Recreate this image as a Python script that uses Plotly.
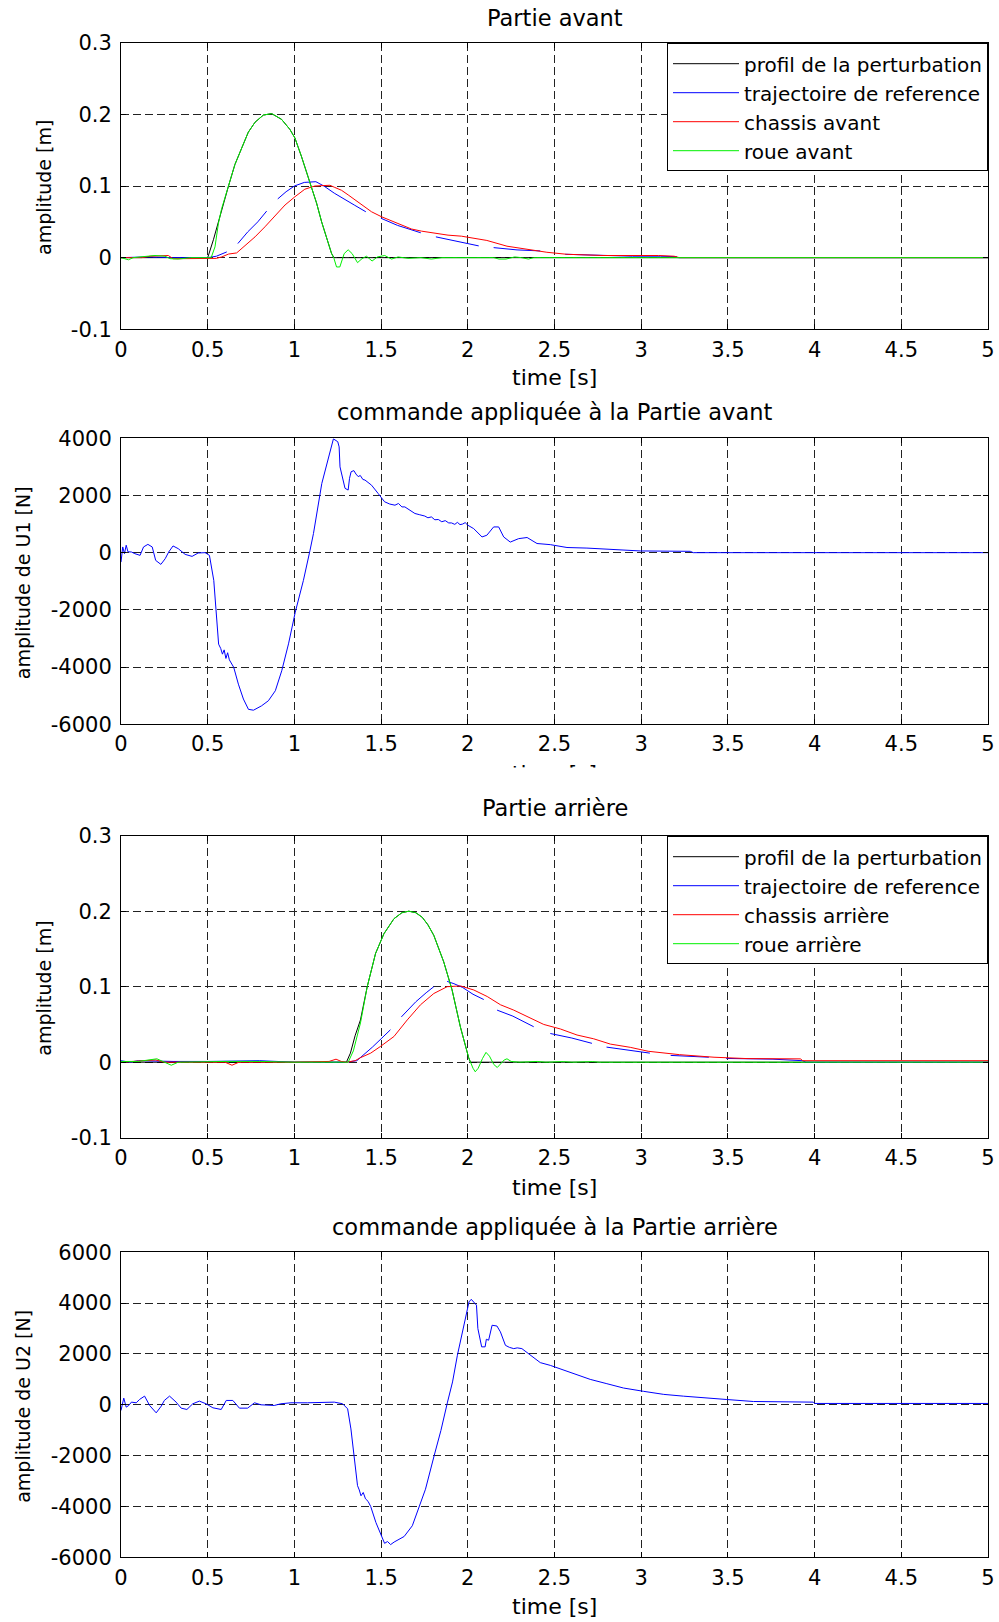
import plotly.graph_objects as go

FONT = "DejaVu Sans"
W, H = 999, 1622

# ---------------- data : Partie avant (plot 1) ----------------
t_prof_av = [0, 0.5, 0.533, 0.562, 0.59, 0.62, 0.657, 0.696, 0.734, 0.773, 0.821, 0.869, 0.926, 0.974, 1.003, 1.041, 1.07, 1.099, 1.128, 1.157, 1.185, 1.214, 1.228, 5]
prof_av = [0, 0, 0.025, 0.051, 0.077, 0.1, 0.13, 0.153, 0.175, 0.189, 0.199, 0.201, 0.193, 0.179, 0.167, 0.141, 0.12, 0.098, 0.076, 0.05, 0.027, 0.006, 0, 0]

t_ref_av = [0, 0.15, 0.3, 0.5, 0.55, 0.58, 0.61, None, 0.674, 0.731, 0.789, 0.84, None, 0.904, 0.952, 1.0, 1.057, 1.124, 1.17, 1.23, 1.29, 1.345, 1.412, None, 1.499, 1.595, 1.729, None, 1.816, 1.919, 1.996, 2.063, None, 2.149, 2.284, 2.418, None, 2.562, 2.783, 2.95, 3.11, 3.205, 3.21, 5]
ref_av = [0, 0.001, 0, 0, 0.002, 0.005, 0.008, None, 0.0197, 0.036, 0.05, 0.065, None, 0.082, 0.092, 0.1, 0.105, 0.106, 0.1, 0.09, 0.081, 0.0735, 0.064, None, 0.055, 0.045, 0.0347, None, 0.029, 0.0235, 0.02, 0.0164, None, 0.014, 0.0108, 0.0094, None, 0.0047, 0.0028, 0.002, 0.002, 0.0014, 0, 0]

t_chassis_av = [0, 0.12, 0.168, 0.273, 0.3, 0.35, 0.5, 0.55, 0.581, 0.62, 0.667, 0.715, 0.773, 0.83, 0.888, 0.946, 1.003, 1.06, 1.118, 1.176, 1.205, 1.233, 1.272, 1.31, 1.349, 1.387, 1.445, 1.503, 1.56, 1.618, 1.675, 1.733, 1.81, 1.886, 1.963, 2.11, 2.226, 2.38, 2.456, 2.57, 2.78, 3.1, 3.19, 3.22, 5]
chassis_av = [0, 0, 0.002, 0.003, -0.0015, -0.0015, -0.002, -0.001, 0.001, 0.005, 0.0066, 0.017, 0.029, 0.043, 0.059, 0.0735, 0.085, 0.0955, 0.1, 0.101, 0.101, 0.098, 0.094, 0.0876, 0.0806, 0.0735, 0.064, 0.057, 0.0515, 0.0454, 0.04, 0.037, 0.0337, 0.0314, 0.03, 0.024, 0.016, 0.01, 0.0075, 0.0047, 0.003, 0.003, 0.002, 0, 0]

t_roue_av = [0, 0.024, 0.043, 0.07, 0.158, 0.196, 0.254, 0.283, 0.33, 0.4, 0.5, 0.52, 0.542, 0.562, 0.58, 0.62, 0.657, 0.696, 0.734, 0.773, 0.821, 0.869, 0.926, 0.974, 1.003, 1.041, 1.07, 1.099, 1.128, 1.157, 1.185, 1.214, 1.228, 1.243, 1.262, 1.287, 1.31, 1.333, 1.364, 1.39, 1.416, 1.448, 1.479, 1.521, 1.56, 1.598, 1.655, 1.73, 1.79, 1.85, 2.15, 2.18, 2.22, 2.27, 2.31, 2.35, 2.38, 5]
roue_av = [0, -0.0014, -0.003, 0, 0.002, 0.003, 0.002, -0.0014, -0.002, 0, 0, 0, 0.015, 0.048, 0.068, 0.1, 0.13, 0.153, 0.175, 0.189, 0.199, 0.201, 0.193, 0.179, 0.167, 0.141, 0.12, 0.098, 0.076, 0.05, 0.027, 0.006, -0.001, -0.013, -0.013, 0.0056, 0.011, 0.0056, -0.007, -0.0014, 0.002, -0.0047, 0.001, 0.003, -0.002, 0.001, -0.001, 0, -0.002, 0, 0, -0.002, -0.002, 0.001, 0, -0.002, 0, 0]

# ---------------- data : commande U1 (plot 2) ----------------
t_u1 = [0, 0.01, 0.02, 0.03, 0.04, 0.06, 0.08, 0.11, 0.13, 0.155, 0.18, 0.2, 0.23, 0.255, 0.275, 0.3, 0.33, 0.37, 0.41, 0.445, 0.485, 0.51, 0.535, 0.553, 0.563, 0.575, 0.585, 0.595, 0.605, 0.615, 0.625, 0.65, 0.677, 0.706, 0.735, 0.764, 0.81, 0.85, 0.89, 0.927, 0.966, 1.005, 1.052, 1.09, 1.11, 1.158, 1.196, 1.225, 1.25, 1.258, 1.263, 1.292, 1.31, 1.318, 1.327, 1.343, 1.355, 1.368, 1.38, 1.395, 1.407, 1.42, 1.445, 1.483, 1.52, 1.55, 1.58, 1.6, 1.62, 1.637, 1.66, 1.695, 1.72, 1.752, 1.77, 1.79, 1.81, 1.83, 1.85, 1.87, 1.89, 1.906, 1.925, 1.94, 1.955, 1.97, 1.985, 2.0, 2.034, 2.082, 2.11, 2.149, 2.178, 2.207, 2.245, 2.293, 2.342, 2.399, 2.476, 2.572, 2.687, 2.88, 2.995, 3.283, 3.3, 5]
u1 = [-330, 200, -35, 260, 30, 23, -35, -94, 200, 290, 200, -270, -410, -210, 23, 235, 140, -60, -130, -12, 0, -94, -970, -2260, -3200, -3350, -3550, -3400, -3700, -3500, -3750, -4010, -4600, -5120, -5480, -5510, -5360, -5180, -4830, -4130, -3190, -2080, -970, 80, 670, 2420, 3360, 3980, 3880, 3700, 3000, 2250, 2190, 2600, 2830, 2870, 2750, 2660, 2700, 2560, 2540, 2480, 2360, 2070, 1780, 1700, 1660, 1720, 1600, 1600, 1500, 1370, 1330, 1280, 1220, 1250, 1150, 1160, 1080, 1120, 1040, 1040, 990, 1060, 980, 1000, 1050, 960, 840, 550, 610, 900, 900, 550, 370, 490, 530, 320, 280, 180, 160, 105, 60, 47, 0, 0]

# ---------------- data : Partie arriere (plot 3) ----------------
t_prof_ar = [0, 1.3, 1.323, 1.35, 1.381, 1.42, 1.468, 1.516, 1.574, 1.62, 1.66, 1.7, 1.737, 1.77, 1.804, 1.861, 1.909, 1.957, 2.005, 2.015, 5]
prof_ar = [0, 0, 0.012, 0.035, 0.056, 0.1, 0.144, 0.17, 0.19, 0.198, 0.2, 0.198, 0.192, 0.182, 0.168, 0.133, 0.096, 0.047, 0.006, 0, 0]

t_ref_ar = [0, 0.05, 0.1, 0.3, 0.5, 0.8, 1.0, 1.3, 1.36, 1.391, 1.45, 1.5, 1.554, None, 1.617, 1.7, 1.76, 1.804, None, 1.881, 1.92, 1.97, 2.03, 2.092, None, 2.169, 2.26, 2.38, None, 2.476, 2.6, 2.716, None, 2.8, 2.92, 3.05, None, 3.17, 3.39, None, 3.49, 3.76, 3.93, 3.95, 5]
ref_ar = [0.002, 0, 0.002, 0.001, 0.001, 0.002, 0, 0, 0.002, 0.008, 0.02, 0.031, 0.043, None, 0.06, 0.08, 0.092, 0.1, None, 0.107, 0.104, 0.099, 0.09, 0.083, None, 0.069, 0.061, 0.047, None, 0.038, 0.032, 0.025, None, 0.02, 0.016, 0.012, None, 0.009, 0.0066, None, 0.005, 0.004, 0.002, 0, 0]

t_chassis_ar = [0, 0.2, 0.25, 0.5, 0.6, 0.64, 0.68, 1.0, 1.2, 1.24, 1.27, 1.3, 1.35, 1.381, 1.44, 1.497, 1.535, 1.574, 1.651, 1.727, 1.804, 1.881, 1.958, 2.035, 2.112, 2.189, 2.265, 2.342, 2.438, 2.534, 2.63, 2.726, 2.822, 2.937, 3.04, 3.22, 3.42, 3.61, 3.92, 3.93, 5]
chassis_ar = [0, 0.003, 0, 0, 0, -0.004, 0, 0, 0.001, 0.004, 0.001, 0, 0.002, 0.006, 0.012, 0.021, 0.028, 0.034, 0.056, 0.076, 0.091, 0.1, 0.101, 0.0956, 0.087, 0.076, 0.069, 0.061, 0.05, 0.044, 0.036, 0.031, 0.024, 0.0197, 0.0145, 0.01, 0.0066, 0.0048, 0.0044, 0.002, 0.002]

t_roue_ar = [0, 0.1, 0.207, 0.25, 0.29, 0.33, 0.5, 0.6, 0.8, 1.0, 1.31, 1.34, 1.381, 1.42, 1.468, 1.516, 1.574, 1.62, 1.66, 1.7, 1.737, 1.77, 1.804, 1.861, 1.909, 1.957, 2.005, 2.015, 2.03, 2.043, 2.06, 2.085, 2.105, 2.125, 2.15, 2.17, 2.19, 2.21, 2.226, 2.25, 2.3, 2.4, 2.45, 2.55, 2.6, 2.72, 2.76, 5]
roue_ar = [0.001, 0.001, 0.0045, 0, -0.004, 0, 0.001, 0.001, 0.001, 0, 0, 0.015, 0.052, 0.1, 0.144, 0.17, 0.19, 0.198, 0.2, 0.198, 0.192, 0.182, 0.168, 0.133, 0.096, 0.047, 0.006, 0, -0.008, -0.0127, -0.008, 0.005, 0.013, 0.008, -0.003, -0.007, -0.002, 0.003, 0.0045, 0.001, 0, 0.001, 0, 0.0008, 0, 0.0008, 0, 0]

# ---------------- data : commande U2 (plot 4) ----------------
t_u2 = [0, 0.016, 0.03, 0.045, 0.06, 0.088, 0.107, 0.136, 0.165, 0.203, 0.232, 0.25, 0.28, 0.318, 0.347, 0.38, 0.414, 0.452, 0.49, 0.53, 0.578, 0.607, 0.645, 0.683, 0.73, 0.77, 0.807, 0.846, 0.884, 0.922, 0.98, 1.075, 1.152, 1.23, 1.278, 1.307, 1.326, 1.345, 1.364, 1.374, 1.384, 1.397, 1.41, 1.425, 1.44, 1.47, 1.5, 1.52, 1.537, 1.555, 1.575, 1.633, 1.68, 1.72, 1.756, 1.806, 1.845, 1.883, 1.912, 1.94, 1.98, 2.007, 2.02, 2.05, 2.058, 2.08, 2.1, 2.107, 2.12, 2.14, 2.168, 2.188, 2.217, 2.24, 2.265, 2.285, 2.312, 2.36, 2.418, 2.476, 2.553, 2.63, 2.706, 2.802, 2.898, 3.014, 3.13, 3.244, 3.36, 3.49, 3.647, 3.993, 4.0, 5]
u2 = [-224, 263, -92, -26, 105, 79, 210, 342, -26, -316, -53, 171, 342, 105, -132, -184, 40, 145, 40, -118, -184, 171, 171, -132, -132, 79, 0, 0, -26, 40, 79, 79, 79, 105, 40, -158, -950, -2000, -3180, -3350, -3580, -3450, -3700, -3800, -4000, -4630, -5160, -5450, -5380, -5500, -5400, -5180, -4760, -4040, -3320, -2000, -1010, 105, 900, 1950, 3130, 4050, 4150, 3920, 3000, 2280, 2280, 2580, 2540, 3130, 3100, 2870, 2340, 2260, 2210, 2240, 2210, 1950, 1660, 1550, 1360, 1160, 1000, 830, 660, 530, 410, 340, 290, 210, 130, 105, 53, 53]

# ---------------- ticks ----------------
x_ticks = [0, 0.5, 1, 1.5, 2, 2.5, 3, 3.5, 4, 4.5, 5]
x_tick_text = ["0", "0.5", "1", "1.5", "2", "2.5", "3", "3.5", "4", "4.5", "5"]
y_ticks_m = [-0.1, 0, 0.1, 0.2, 0.3]
y_tick_text_m = ["-0.1", "0", "0.1", "0.2", "0.3"]
y_ticks_u1 = [-6000, -4000, -2000, 0, 2000, 4000]
y_tick_text_u1 = ["-6000", "-4000", "-2000", "0", "2000", "4000"]
y_ticks_u2 = [-6000, -4000, -2000, 0, 2000, 4000, 6000]
y_tick_text_u2 = ["-6000", "-4000", "-2000", "0", "2000", "4000", "6000"]

titles = ["Partie avant", "commande appliquée à la Partie avant",
          "Partie arrière", "commande appliquée à la Partie arrière"]
y_titles = ["amplitude [m]", "amplitude de U1 [N]", "amplitude [m]", "amplitude de U2 [N]"]

# ---------------- layout geometry (pixels) ----------------
PLOT_L, PLOT_R = 121, 988
PLOT_TB = [(42.7, 329.3), (438.3, 724.2), (835.7, 1137.7), (1252.3, 1557.3)]
TITLE_Y = [18, 412, 808, 1227]
YTITLE_X = [44, 23, 44, 23]
XTITLE_Y = [377, None, 1187, 1606]


def py(p):
    return 1 - p / H


X_DOM = [PLOT_L / W, PLOT_R / W]
GRID = "#222222"

fig = go.Figure()

BLACK, BLUE, RED, GREEN = "#000000", "#0000ff", "#ff0000", "#00f000"
LW = 1


def add_line(x, y, color, name, xa, ya, legend=None, show=False):
    fig.add_trace(go.Scatter(x=x, y=y, mode="lines", name=name,
                             line=dict(color=color, width=LW),
                             xaxis=xa, yaxis=ya, connectgaps=False,
                             showlegend=show, legend=legend, hoverinfo="skip"))


# plot 1
add_line(t_prof_av, prof_av, BLACK, "profil de la perturbation", "x", "y", "legend", True)
add_line(t_ref_av, ref_av, BLUE, "trajectoire de reference", "x", "y", "legend", True)
add_line(t_chassis_av, chassis_av, RED, "chassis avant", "x", "y", "legend", True)
add_line(t_roue_av, roue_av, GREEN, "roue avant", "x", "y", "legend", True)
# plot 2
add_line(t_u1, u1, BLUE, "U1", "x2", "y2")
# plot 3
add_line(t_prof_ar, prof_ar, BLACK, "profil de la perturbation", "x3", "y3", "legend2", True)
add_line(t_ref_ar, ref_ar, BLUE, "trajectoire de reference", "x3", "y3", "legend2", True)
add_line(t_chassis_ar, chassis_ar, RED, "chassis arrière", "x3", "y3", "legend2", True)
add_line(t_roue_ar, roue_ar, GREEN, "roue arrière", "x3", "y3", "legend2", True)
# plot 4
add_line(t_u2, u2, BLUE, "U2", "x4", "y4")

# partially hidden x-title of plot 2 (clipped by the following panel)
fig.add_trace(go.Scatter(x=[2.5], y=[-0.34], mode="text", text=["time [s]"],
                         textfont=dict(family=FONT, size=22, color="black"),
                         xaxis="x5", yaxis="y5", cliponaxis=True,
                         showlegend=False, hoverinfo="skip"))

tickfont = dict(family=FONT, size=21, color="black")


def xax(anchor):
    return dict(domain=X_DOM, range=[0, 5], anchor=anchor, tickmode="array",
                tickvals=x_ticks, ticktext=x_tick_text, showgrid=True,
                gridcolor=GRID, griddash="8px,4px", gridwidth=1,
                showline=True, linecolor="black", linewidth=1, mirror="ticks",
                ticks="inside", ticklen=5, tickcolor="black", zeroline=False,
                tickfont=tickfont, automargin=False, fixedrange=True,
                ticklabelstandoff=1)


def yax(anchor, dom, rng, vals, text):
    return dict(domain=dom, range=rng, anchor=anchor, tickmode="array",
                tickvals=vals, ticktext=text, showgrid=True,
                gridcolor=GRID, griddash="8px,4px", gridwidth=1,
                showline=True, linecolor="black", linewidth=1, mirror="ticks",
                ticks="inside", ticklen=5, tickcolor="black", zeroline=False,
                tickfont=tickfont, automargin=False, fixedrange=True,
                ticklabelstandoff=4)


doms = [[py(b), py(t)] for (t, b) in PLOT_TB]

layout = dict(
    width=W, height=H, autosize=False,
    margin=dict(l=0, r=0, t=0, b=0, pad=0),
    paper_bgcolor="white", plot_bgcolor="white",
    font=dict(family=FONT, size=20, color="black"),
    xaxis=xax("y"), yaxis=yax("x", doms[0], [-0.1, 0.3], y_ticks_m, y_tick_text_m),
    xaxis2=xax("y2"), yaxis2=yax("x2", doms[1], [-6000, 4000], y_ticks_u1, y_tick_text_u1),
    xaxis3=xax("y3"), yaxis3=yax("x3", doms[2], [-0.1, 0.3], y_ticks_m, y_tick_text_m),
    xaxis4=xax("y4"), yaxis4=yax("x4", doms[3], [-6000, 6000], y_ticks_u2, y_tick_text_u2),
    xaxis5=dict(domain=X_DOM, range=[0, 5], anchor="y5", visible=False, fixedrange=True),
    yaxis5=dict(domain=[py(767.5), py(745)], range=[0, 1], anchor="x5", visible=False, fixedrange=True),
    showlegend=True,
)

legend_common = dict(xanchor="right", yanchor="top", bgcolor="white",
                     bordercolor="black", borderwidth=1, orientation="v",
                     font=dict(family=FONT, size=20, color="black"),
                     tracegroupgap=0, itemwidth=66, itemclick=False,
                     itemdoubleclick=False)
layout["legend"] = dict(x=PLOT_R / W, y=py(43.2), **legend_common)
layout["legend2"] = dict(x=PLOT_R / W, y=py(836.2), **legend_common)

fig.update_layout(**layout)

annotations = []
xc = (X_DOM[0] + X_DOM[1]) / 2
for i in range(4):
    annotations.append(dict(text=titles[i], x=xc, y=py(TITLE_Y[i]), xref="paper", yref="paper",
                            xanchor="center", yanchor="middle", showarrow=False,
                            font=dict(family=FONT, size=22.5, color="black")))
    t, b = PLOT_TB[i]
    annotations.append(dict(text=y_titles[i], x=YTITLE_X[i] / W, y=py((t + b) / 2 + 2),
                            xref="paper", yref="paper", xanchor="center", yanchor="middle",
                            textangle=-90, showarrow=False,
                            font=dict(family=FONT, size=19, color="black")))
    if XTITLE_Y[i] is not None:
        annotations.append(dict(text="time [s]", x=xc, y=py(XTITLE_Y[i]), xref="paper", yref="paper",
                                xanchor="center", yanchor="middle", showarrow=False,
                                font=dict(family=FONT, size=22, color="black")))
fig.update_layout(annotations=annotations)

fig.write_html("out.html", config={"displayModeBar": False, "staticPlot": True},
               post_script="document.body.style.margin='0';document.body.style.overflow='hidden';")
